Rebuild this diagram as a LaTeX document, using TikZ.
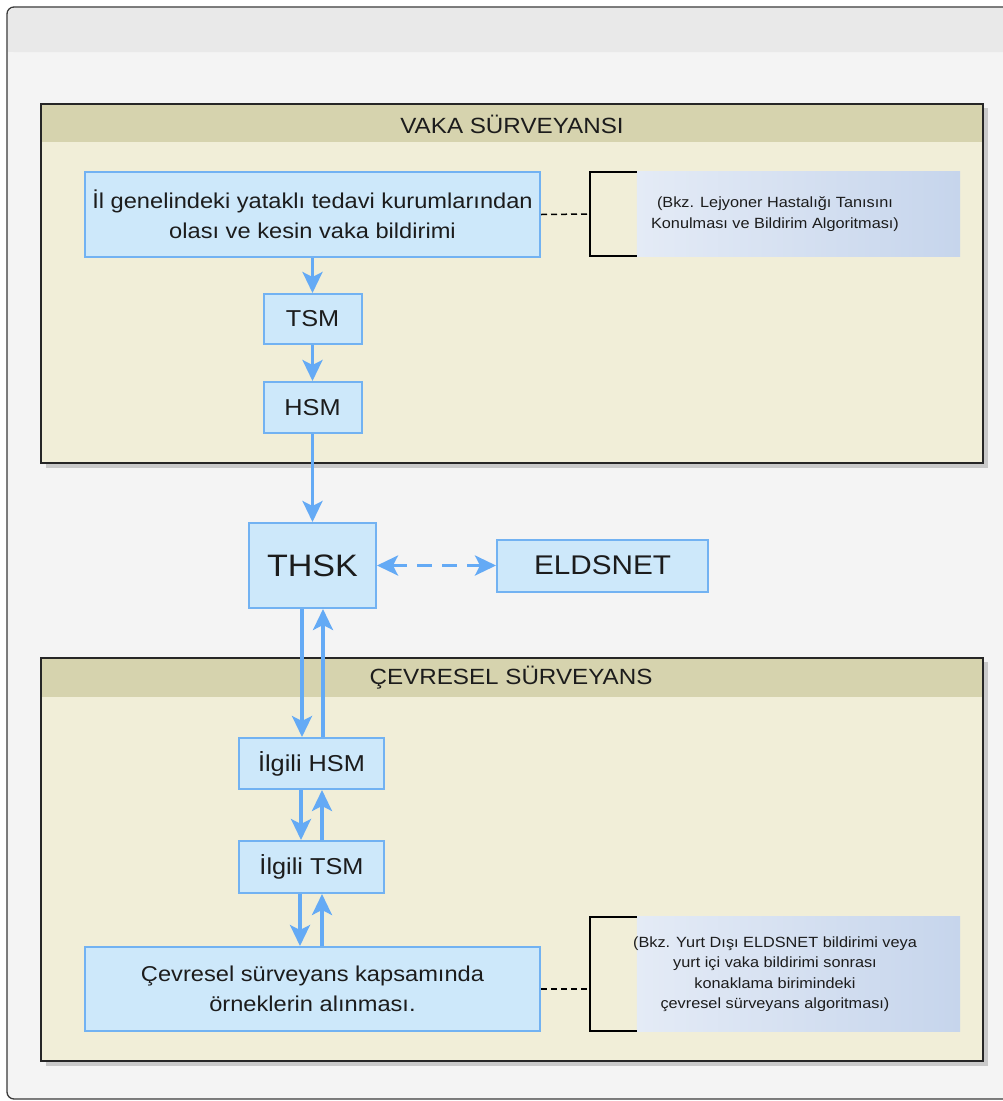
\documentclass[tikz,border=0pt]{standalone}
\usepackage{fontspec}
\setmainfont[FakeStretch=1.1]{Liberation Sans}
\usetikzlibrary{arrows.meta,calc}
\definecolor{pagebg}{HTML}{F4F4F4}
\definecolor{headbg}{HTML}{E9E9E9}
\definecolor{framec}{HTML}{3A3A3A}
\definecolor{panelbody}{HTML}{F1EED8}
\definecolor{paneltitle}{HTML}{D6D3AE}
\definecolor{panelshadow}{HTML}{C9C9C9}
\definecolor{boxfill}{HTML}{CDE8FA}
\definecolor{boxline}{HTML}{72B2F2}
\definecolor{arrowc}{HTML}{64AAF5}
\definecolor{notel}{HTML}{E4EBF6}
\definecolor{noter}{HTML}{C6D5EC}
\definecolor{txt}{HTML}{1C1C1C}
\begin{document}
\begin{tikzpicture}[x=1pt,y=-1pt,
  box/.style={draw=boxline, line width=2pt, fill=boxfill, text=txt, align=center, inner sep=0pt},
  bigtext/.style={font=\fontsize{21.5}{29.5}\selectfont},
  midtext/.style={font=\fontsize{23}{27}\selectfont},
  notetext/.style={font=\fontsize{14.8}{20.5}\selectfont, text=txt, align=center, inner sep=0pt},
  tip/.style={Stealth[length=21pt,width=20pt,inset=5pt]},
  arr/.style={draw=arrowc, line width=3.2pt, -{Stealth[length=21pt,width=20pt,inset=5pt]}},
  dasharr/.style={draw=arrowc, line width=3.2pt, dash pattern=on 15pt off 10pt, {Stealth[length=21pt,width=20pt,inset=5pt]}-{Stealth[length=21pt,width=20pt,inset=5pt]}},
  dashline/.style={draw=black, line width=1.5pt, dash pattern=on 6pt off 4pt},
  bracket/.style={draw=black, line width=2pt},
  paneltext/.style={font=\fontsize{22}{26}\selectfont, text=txt}
]
\useasboundingbox (0,0) rectangle (1003,1101);
% outer frame
\fill[white] (0,0) rectangle (1003,1101);
\draw[rounded corners=7pt, line width=1.3pt, draw=framec, fill=pagebg] (7,1099) rectangle (1040,7);
\fill[headbg, rounded corners=6pt] (8,8) rectangle (1035,52);
\fill[headbg] (8,30) rectangle (1035,52);

% panel 1
\fill[panelshadow] (46,108) rectangle (988,468);
\fill[panelbody] (41,104) rectangle (983,463);
\fill[paneltitle] (41,104) rectangle (983,142);
\draw[line width=1.6pt, draw=black!85] (41,104) rectangle (983,463);
\node[paneltext] (t1) at (512,124) {VAKA SÜRVEYANSI};

% panel 2
\fill[panelshadow] (46,662) rectangle (988,1066);
\fill[panelbody] (41,658) rectangle (983,1061);
\fill[paneltitle] (41,658) rectangle (983,697);
\draw[line width=1.6pt, draw=black!85] (41,658) rectangle (983,1061);
\node[paneltext] (t2) at (511,678) {ÇEVRESEL SÜRVEYANS};

% boxes
\node[box, bigtext, minimum width=455pt, minimum height=85pt] (b1) at (312.5,214.5)
  {İl genelindeki yataklı tedavi kurumlarından\\olası ve kesin vaka bildirimi};
\node[box, midtext, minimum width=98pt, minimum height=50pt] (tsm) at (312.5,319) {TSM};
\node[box, midtext, minimum width=98pt, minimum height=51pt] (hsm) at (312.5,407.5) {HSM};
\node[box, font=\fontsize{31}{34}\selectfont, minimum width=127pt, minimum height=85pt] (thsk) at (312.5,565.5) {THSK};
\node[box, font=\fontsize{27}{32}\selectfont, minimum width=211pt, minimum height=52pt] (elds) at (602.5,565.5) {ELDSNET};
\node[box, midtext, minimum width=145pt, minimum height=51pt] (ihsm) at (311.5,763.5) {İlgili HSM};
\node[box, midtext, minimum width=145pt, minimum height=52pt] (itsm) at (311.5,867) {İlgili TSM};
\node[box, bigtext, minimum width=455pt, minimum height=84pt] (b2) at (312.5,989)
  {Çevresel sürveyans kapsamında\\örneklerin alınması.};

% notes
\node[notetext, minimum width=370pt, minimum height=84pt] (n1) at (775,214) {};
\shade[left color=notel, right color=noter] ([xshift=47pt]n1.south west) rectangle (n1.north east);
\node[notetext] (n1t) at (n1.center) {(Bkz. Lejyoner Hastalığı Tanısını\\Konulması ve Bildirim Algoritması)};
\draw[bracket] ([xshift=47pt]n1.north west) -- (n1.north west) -- (n1.south west) -- ([xshift=47pt]n1.south west);
\draw[dashline] (b1.east) -- (n1.west);

\node[notetext, minimum width=370pt, minimum height=114pt] (n2) at (775,974) {};
\shade[left color=notel, right color=noter] ([xshift=47pt]n2.south west) rectangle (n2.north east);
\node[notetext] (n2t) at (n2.center) {(Bkz. Yurt Dışı ELDSNET bildirimi veya\\yurt içi vaka bildirimi sonrası\\konaklama birimindeki\\çevresel sürveyans algoritması)};
\draw[bracket] ([xshift=47pt]n2.north west) -- (n2.north west) -- (n2.south west) -- ([xshift=47pt]n2.south west);
\draw[dashline] (b2.east) -- (b2.east -| n2.west);

% arrows
\draw[arr] (b1.south) -- (tsm.north);
\draw[arr] (tsm.south) -- (hsm.north);
\draw[arr] (hsm.south) -- (thsk.north);
\draw[dasharr] (thsk.east) -- (elds.west);

\draw[arr] ([xshift=-10.5pt]thsk.south) -- ([xshift=-10.5pt]thsk.south |- ihsm.north);
\draw[arr] ([xshift=10.5pt]thsk.south |- ihsm.north) -- ([xshift=10.5pt]thsk.south);
\draw[arr] ([xshift=-10.5pt]ihsm.south) -- ([xshift=-10.5pt]ihsm.south |- itsm.north);
\draw[arr] ([xshift=10.5pt]ihsm.south |- itsm.north) -- ([xshift=10.5pt]ihsm.south);
\draw[arr] ([xshift=-11.5pt]itsm.south) -- ([xshift=-11.5pt]itsm.south |- b2.north);
\draw[arr] ([xshift=10.5pt]itsm.south |- b2.north) -- ([xshift=10.5pt]itsm.south);
\end{tikzpicture}
\end{document}
